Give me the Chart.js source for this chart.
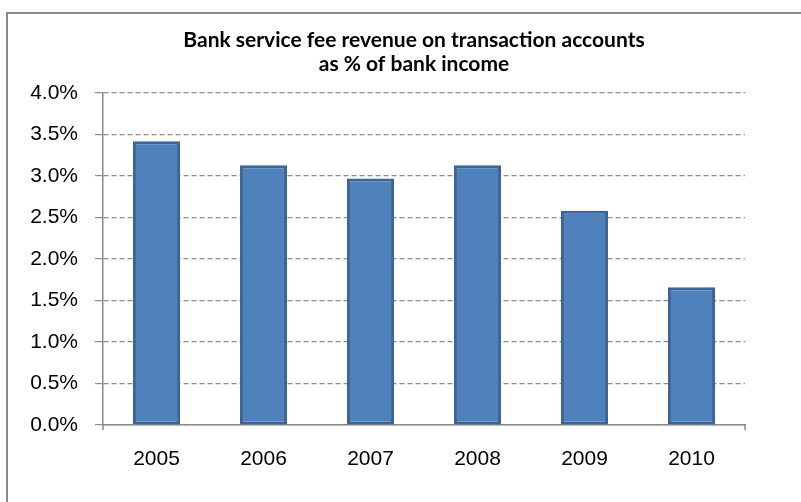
<!DOCTYPE html>
<html>
<head>
<meta charset="utf-8">
<script src="https://cdn.jsdelivr.net/npm/chart.js@4/dist/chart.umd.min.js"></script>
<style>
  html, body { margin: 0; padding: 0; background: #fff; }
  #wrap { position: relative; width: 801px; height: 502px; }
  #frame { position: absolute; left: 6px; top: 12px; right: 0; bottom: 0; border-left: 2px solid #898989; border-top: 2px solid #898989; }
  canvas { position: absolute; left: 0; top: 0; }
</style>
</head>
<body>
<div id="wrap">
  <div id="frame"></div>
  <canvas id="feeChart" width="801" height="502"></canvas>
</div>
<script>
const years = ["2005", "2006", "2007", "2008", "2009", "2010"];
const feeShare = [3.42, 3.13, 2.97, 3.13, 2.58, 1.66];
const titleLines = ["Bank service fee revenue on transaction accounts", "as % of bank income"];

// two-line heading, centred a bit left of the plot
const heading = {
  id: "heading",
  afterDraw(chart) {
    const ctx = chart.ctx;
    ctx.save();
    ctx.fillStyle = "#000";
    ctx.font = "bold 21px Lato, 'Liberation Sans', sans-serif";
    ctx.textAlign = "center";
    ctx.textBaseline = "alphabetic";
    titleLines.forEach(function (line, i) {
      ctx.fillText(line, 414, 47 + i * 24);
    });
    ctx.restore();
  },
};

// little stubs below the category axis at both ends
const axisStubs = {
  id: "axisStubs",
  afterDatasetsDraw(chart) {
    const a = chart.chartArea;
    const ctx = chart.ctx;
    ctx.save();
    ctx.strokeStyle = "#898989";
    ctx.lineWidth = 1.5;
    ctx.beginPath();
    ctx.moveTo(a.left, a.bottom);
    ctx.lineTo(a.left, a.bottom + 5);
    ctx.moveTo(a.right, a.bottom);
    ctx.lineTo(a.right, a.bottom + 5);
    ctx.stroke();
    ctx.restore();
  },
};

const tickFont = { family: "'Liberation Sans', Arial, sans-serif", size: 21 };

new Chart(document.getElementById("feeChart"), {
  type: "bar",
  data: {
    labels: years,
    datasets: [{
      data: feeShare,
      backgroundColor: "#4f81bd",
      borderColor: "#3a6595",
      borderWidth: 3,
      borderSkipped: false,
      barPercentage: 0.44,
      categoryPercentage: 1,
    }],
  },
  options: {
    responsive: false,
    animation: false,
    layout: { padding: { top: 93, right: 56, bottom: 0, left: 0 } },
    plugins: { legend: { display: false }, tooltip: { enabled: false } },
    scales: {
      x: {
        afterFit: function (s) { s.height = 77; },
        grid: { drawOnChartArea: false, drawTicks: false },
        border: { color: "#898989", width: 1.5 },
        ticks: { color: "#000", padding: 22, font: tickFont },
      },
      y: {
        min: 0,
        max: 4,
        afterFit: function (s) { s.width = 103; },
        grid: { color: "#8c8c8c", lineWidth: 1.2, tickLength: 8, tickBorderDash: [] },
        border: { color: "#898989", width: 1.5, dash: [5, 3] },
        ticks: {
          stepSize: 0.5,
          color: "#000",
          padding: 17,
          font: tickFont,
          callback: function (v) { return v.toFixed(1) + "%"; },
        },
      },
    },
  },
  plugins: [heading, axisStubs],
});
</script>
</body>
</html>
